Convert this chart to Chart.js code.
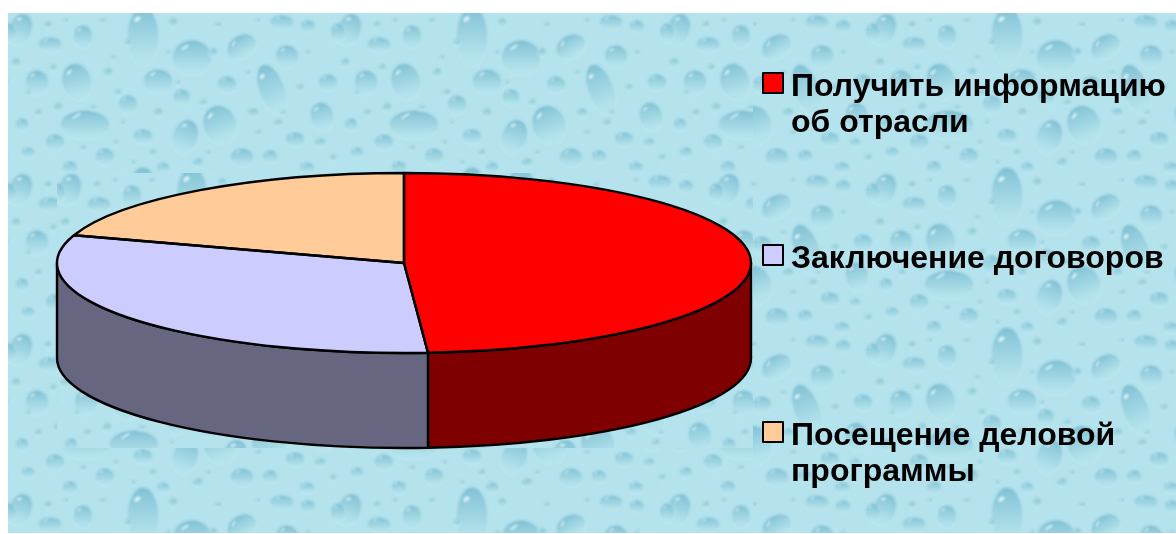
<!DOCTYPE html>
<html><head><meta charset="utf-8">
<style>html,body{margin:0;padding:0;background:#fff;overflow:hidden}canvas{display:block}</style>
<script src="https://cdn.jsdelivr.net/npm/chart.js@4"></script></head>
<body><div style="width:1176px;height:534px;position:relative"><canvas id="c" width="1176" height="534"></canvas></div>
<script>
const categories = [['Получить информацию','об отрасли'],['Заключение договоров'],['Посещение деловой','программы']];
const values = [48.9,31.1,20];
const topColors = ['#FF0000','#CCCCFF','#FFCC99'];
const sideColors = ['#7F0000','#666680','#7F6650'];
const legendBaselines = [96,268,445];
// decorative water-drop texture: [x,y,rx,ry,rotationDeg]
const drops = [[135,24,16,30,0],[184,45,20,18,0],[234,34,16,12,-30],[279,44,12,12,0],[274,10,12,8,0],[300,14,8,7,0],
[264,77,13,27,-20],[219,72,10,9,0],[150,69,15,13,0],[69,69,15,19,-15],[29,70,12,13,0],[75,24,10,12,0],[42,32,12,8,0],
[12,17,12,17,20],[77,112,25,15,0],[120,92,10,10,0],[212,112,17,20,-20],[177,124,13,18,20],[174,85,9,9,0],[314,104,12,15,-10],
[320,70,10,9,0],[135,124,10,8,0],[287,127,10,8,0],[234,145,12,10,0],[97,144,10,9,0],[47,130,10,9,0],[14,112,7,7,0],
[62,155,8,7,0],[155,155,7,6,0],[299,155,8,6,0],[312,130,6,5,0],[262,144,8,7,0],[100,60,5,5,0],[110,80,4,4,0],[205,40,5,5,0],
[245,100,6,5,0],[20,140,7,6,0],[190,150,6,5,0],[330,20,8,10,0],[8,50,5,5,0],[50,95,5,5,0],[150,100,5,5,0],[270,110,5,4,0],[120,30,4,4,0],
[40,12,4,4,0],[58,8,3,3,0],[95,8,4,3,0],[165,10,5,5,0],[210,12,4,3,0],[250,8,3,3,0],[105,45,3,3,0],[170,70,3,3,0],[195,90,4,4,0],
[240,60,3,3,0],[292,75,4,4,0],[300,40,3,3,0],[85,95,4,3,0],[30,100,4,4,0],[115,110,3,3,0],[145,140,4,4,0],[200,140,3,3,0],[250,120,4,3,0],
[275,100,3,3,0],[325,145,4,4,0],[75,135,4,3,0],[20,80,3,3,0],[108,130,3,3,0],[160,40,3,3,0],[45,55,4,4,0],[125,150,3,3,0]];

let tile;
function makeTile(){
  tile=document.createElement('canvas');tile.width=329;tile.height=160;
  const g=tile.getContext('2d');
  g.fillStyle='#B4E3ED';g.fillRect(0,0,329,160);
  g.filter='blur(0.8px)';
  drops.forEach(([x,y,rx,ry,rot])=>{
    [-329,0,329].forEach(ox=>[-160,0,160].forEach(oy=>{
      g.save();g.translate(x+ox,y+oy);g.rotate(rot*Math.PI/180);
      const lg=g.createLinearGradient(0,-ry,0,ry);
      lg.addColorStop(0,'rgba(122,188,210,.9)');lg.addColorStop(.6,'rgba(160,214,226,.7)');lg.addColorStop(1,'rgba(190,235,240,.15)');
      g.beginPath();g.ellipse(0,0,rx,ry,0,0,2*Math.PI);g.fillStyle=lg;g.fill();
      g.lineWidth=1;g.strokeStyle='rgba(205,240,245,.55)';g.stroke();
      g.beginPath();g.ellipse(-rx*.35,-ry*.6,Math.max(.8,rx*.22),Math.max(.6,ry*.07),-.6,0,2*Math.PI);
      g.fillStyle='rgba(232,250,250,.8)';g.fill();
      g.restore();
    }));
  });
  g.filter='none';
}
function fillTile(ctx,x,y,w,h,ox,oy){
  const p=ctx.createPattern(tile,'repeat');
  ctx.save();ctx.beginPath();ctx.rect(x,y,w,h);ctx.clip();ctx.translate(ox,oy);ctx.fillStyle=p;
  ctx.fillRect(x-ox,y-oy,w,h);ctx.restore();
}
const pie3d={
  id:'pie3d',
  beforeDraw(chart){
    const c=chart.ctx;
    if(!tile)makeTile();
    fillTile(c,8,13,1168,520,8,13);
    fillTile(c,57,173,696,275,57,173);
    fillTile(c,753,13,423,520,214,13);
  },
  beforeDatasetsDraw(chart){
    const c=chart.ctx,arcs=chart.getDatasetMeta(0).data,a0=arcs[0];
    const rx=347,ry=90,depth=95,cx=a0.x,cy=a0.y;
    arcs.forEach((arc,i)=>{
      const s=Math.max(arc.startAngle,0),e=Math.min(arc.endAngle,Math.PI);
      if(e<=s)return;
      c.beginPath();c.ellipse(cx,cy,rx,ry,0,s,e);c.ellipse(cx,cy+depth,rx,ry,0,e,s,true);c.closePath();
      c.fillStyle=sideColors[i];c.fill();
      c.lineWidth=2.4;c.strokeStyle='#000';c.lineJoin='round';c.stroke();
    });
    c.save();c.translate(cx,cy);c.scale(rx/a0.outerRadius,ry/a0.outerRadius);c.translate(-cx,-cy);
  },
  afterDatasetsDraw(chart){
    const c=chart.ctx,arcs=chart.getDatasetMeta(0).data,a0=arcs[0];
    c.restore();
    const rx=347,ry=90,cx=a0.x,cy=a0.y;
    arcs.forEach(arc=>{
      c.beginPath();c.moveTo(cx,cy);c.ellipse(cx,cy,rx,ry,0,arc.startAngle,arc.endAngle);c.closePath();
      c.lineWidth=2.4;c.strokeStyle='#000';c.lineJoin='round';c.stroke();
    });
    c.save();c.textBaseline='alphabetic';c.textAlign='left';
    categories.forEach((lines,i)=>{
      const b=legendBaselines[i];
      c.fillStyle=topColors[i];c.fillRect(763,b-23,20,20);
      c.lineWidth=2;c.strokeStyle='#000';c.strokeRect(763,b-23,20,20);
      c.fillStyle='#000';c.font='bold 32px "Liberation Sans", Arial, sans-serif';
      lines.forEach((t,j)=>c.fillText(t,791,b+j*36));
    });
    c.restore();
  }
};
new Chart(document.getElementById('c'),{
  type:'pie',
  data:{labels:categories.map(l=>l.join(' ')),datasets:[{data:values,backgroundColor:topColors,borderWidth:0}]},
  options:{responsive:false,animation:false,
    layout:{padding:{left:204,right:572,top:63,bottom:71}},
    plugins:{legend:{display:false},tooltip:{enabled:false}}},
  plugins:[pie3d]
});
</script></body></html>
